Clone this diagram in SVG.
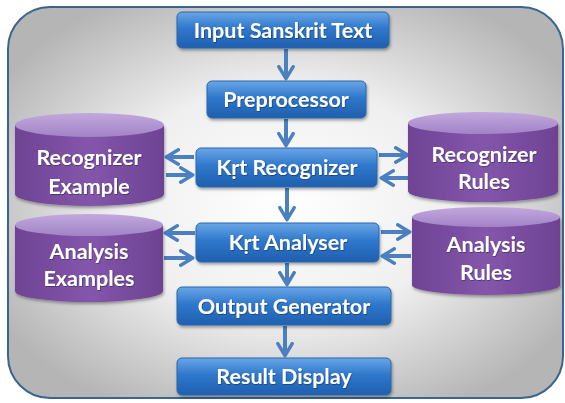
<svg xmlns="http://www.w3.org/2000/svg" width="565" height="403" viewBox="0 0 565 403">
<defs>
<radialGradient id="bg" cx="0.5" cy="0.5" r="0.6">
<stop offset="0" stop-color="#ffffff"/>
<stop offset="0.5" stop-color="#efefef"/>
<stop offset="1" stop-color="#b5b5b5"/>
</radialGradient>
<linearGradient id="blue" x1="0" y1="0" x2="0" y2="1">
<stop offset="0" stop-color="#6aa6e6"/>
<stop offset="0.45" stop-color="#2f78cc"/>
<stop offset="1" stop-color="#1f5fae"/>
</linearGradient>
<linearGradient id="body" x1="0" y1="0" x2="1" y2="0">
<stop offset="0" stop-color="#6e4394"/>
<stop offset="0.5" stop-color="#8456ab"/>
<stop offset="1" stop-color="#6d4293"/>
</linearGradient>
<linearGradient id="top" x1="0" y1="0" x2="0" y2="1">
<stop offset="0" stop-color="#c2a8de"/>
<stop offset="1" stop-color="#a283c6"/>
</linearGradient>
<filter id="sh" x="-10%" y="-10%" width="120%" height="130%">
<feDropShadow dx="1" dy="2" stdDeviation="1.5" flood-color="#000" flood-opacity="0.35"/>
</filter>
<filter id="tsh" x="-5%" y="-20%" width="110%" height="150%">
<feDropShadow dx="0.6" dy="0.8" stdDeviation="0.6" flood-color="#102040" flood-opacity="0.6"/>
</filter>
<marker id="ah" viewBox="0 0 10 10" refX="7" refY="5" markerWidth="4.3" markerHeight="4.3" orient="auto" markerUnits="strokeWidth">
<path d="M1,0.8 L8,5 L1,9.2" fill="none" stroke="#4a80c0" stroke-width="2" stroke-linecap="round" stroke-linejoin="round"/>
</marker>
<clipPath id="clipEx"><rect x="15" y="100" width="150" height="97"/></clipPath>
<style>
.box{fill:url(#blue);stroke:#2b66ad;stroke-width:1;filter:url(#sh)}
.t{font-family:Lato,"Open Sans","Liberation Sans",sans-serif;font-weight:bold;font-size:21.5px;fill:#ffffff;text-anchor:middle;filter:url(#tsh)}
.cb{fill:url(#body);filter:url(#sh)}
.ct{fill:url(#top)}
.ar{fill:none;stroke:#4a80c0;stroke-width:4;marker-end:url(#ah)}
</style>
</defs>
<rect x="8" y="7" width="555" height="391" rx="42" ry="42" fill="url(#bg)" stroke="#3a6590" stroke-width="2"/>

<g id="connectors">
<path class="ar" d="M286,49 V77"/>
<path class="ar" d="M286,119 V144"/>
<path class="ar" d="M287,188 V218"/>
<path class="ar" d="M287,263 V283"/>
<path class="ar" d="M285,326 V354"/>
<path class="ar" d="M194,157 H168"/>
<path class="ar" d="M166,175 H191"/>
<path class="ar" d="M379,155 H406"/>
<path class="ar" d="M408,178 H383"/>
<path class="ar" d="M195,233 H167"/>
<path class="ar" d="M164,258 H191"/>
<path class="ar" d="M381,232 H408"/>
<path class="ar" d="M411,256 H384"/>
</g>

<g id="input">
<rect class="box" x="177" y="12" width="212" height="36" rx="5"/>
<text class="t" x="283" y="38">Input Sanskrit Text</text>
</g>
<g id="preprocessor">
<rect class="box" x="207" y="81" width="159" height="37" rx="5"/>
<text class="t" x="286" y="107">Preprocessor</text>
</g>
<g id="recognizer">
<rect class="box" x="196" y="148" width="181" height="39" rx="5"/>
<text class="t" x="287" y="175">Kṛt Recognizer</text>
</g>
<g id="analyser">
<rect class="box" x="196" y="223" width="183" height="39" rx="5"/>
<text class="t" x="288" y="250">Kṛt Analyser</text>
</g>
<g id="output">
<rect class="box" x="177" y="287" width="214" height="38" rx="5"/>
<text class="t" x="284" y="314">Output Generator</text>
</g>
<g id="result">
<rect class="box" x="177" y="358" width="214" height="37" rx="5"/>
<text class="t" x="284" y="384">Result Display</text>
</g>

<g id="recognizer-example">
<path class="cb" d="M15,125 V194 A74.5,12 0 0 0 164,194 V125 Z"/>
<ellipse class="ct" cx="89.5" cy="125" rx="74.5" ry="12"/>
<text class="t" x="89" y="165">Recognizer</text>
<text class="t" x="89" y="194" clip-path="url(#clipEx)">Example</text>
</g>
<g id="recognizer-rules">
<path class="cb" d="M408,123 V191 A75,11 0 0 0 558,191 V123 Z"/>
<ellipse class="ct" cx="483" cy="123" rx="75" ry="11"/>
<text class="t" x="484" y="162">Recognizer</text>
<text class="t" x="484" y="189">Rules</text>
</g>
<g id="analysis-examples">
<path class="cb" d="M15,225 V291 A74,11 0 0 0 163,291 V225 Z"/>
<ellipse class="ct" cx="89" cy="225" rx="74" ry="11"/>
<text class="t" x="89" y="259">Analysis</text>
<text class="t" x="89" y="286">Examples</text>
</g>
<g id="analysis-rules">
<path class="cb" d="M412,217 V285 A74,10 0 0 0 560,285 V217 Z"/>
<ellipse class="ct" cx="486" cy="217" rx="74" ry="10"/>
<text class="t" x="486" y="252">Analysis</text>
<text class="t" x="486" y="280">Rules</text>
</g>
</svg>
